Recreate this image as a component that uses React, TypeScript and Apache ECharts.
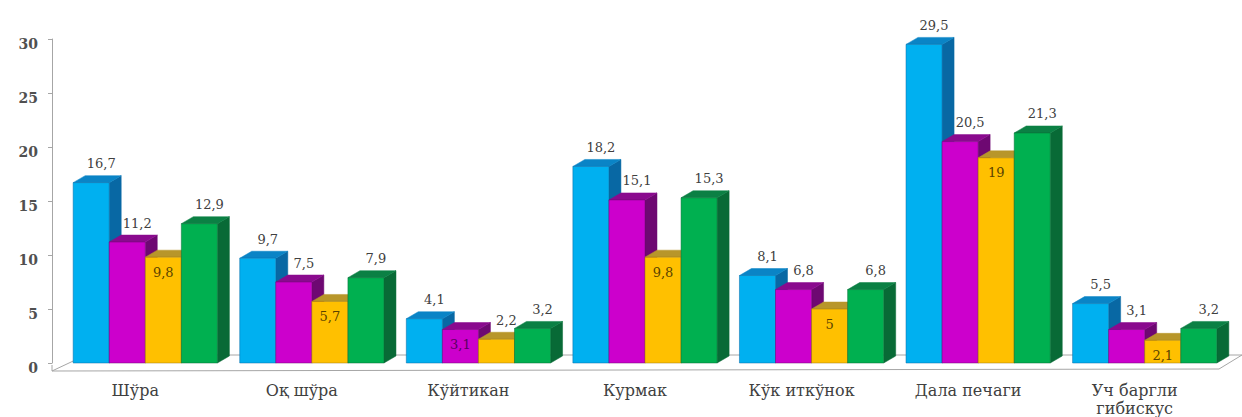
import React, { useEffect, useRef } from "react";
import * as echarts from "echarts";

// Plant species (categories) and the four measured series
const categories = [
  "Шўра",
  "Оқ шўра",
  "Кўйтикан",
  "Курмак",
  "Кўк иткўнок",
  "Дала печаги",
  "Уч баргли\nгибискус",
];
const valuesBlue = [16.7, 9.7, 4.1, 18.2, 8.1, 29.5, 5.5];
const valuesMagenta = [11.2, 7.5, 3.1, 15.1, 6.8, 20.5, 3.1];
const valuesYellow = [9.8, 5.7, 2.2, 9.8, 5, 19, 2.1];
const valuesGreen = [12.9, 7.9, 3.2, 15.3, 6.8, 21.3, 3.2];
const yTicks = [0, 5, 10, 15, 20, 25, 30];

// Where each value label sits: inside the bar face (true) or above it (false)
const labelInside = [
  [false, false, false, false, false, false, false],
  [false, false, true, false, false, false, false],
  [true, true, false, true, true, true, true],
  [false, false, false, false, false, false, false],
];

// Face colours for the 3D blocks: front, top, side, inner label
const palette = [
  { front: "#00B0F0", top: "#0A84C6", side: "#0868A4", inner: "#063a5a" },
  { front: "#CC00CC", top: "#8A0A8E", side: "#6E0872", inner: "#5a0060" },
  { front: "#FFC000", top: "#B8962A", side: "#9C7A10", inner: "#5a4300" },
  { front: "#00B050", top: "#0B8044", side: "#086A36", inner: "#044020" },
];

const allSeries = [valuesBlue, valuesMagenta, valuesYellow, valuesGreen];

const DX = 12; // depth offset to the right
const DY = 7; // depth offset upward

const fmt = (v: number) => String(v).replace(".", ",");

function makeRenderItem(sIdx: number) {
  const col = palette[sIdx];
  return (params: any, api: any) => {
    const ci = api.value(0);
    const v = api.value(1);
    const base = api.coord([ci, 0]);
    const top = api.coord([ci, v]);
    const band = api.size([1, 0])[0];
    const w = band * 0.2165;
    const x0 = base[0] - band * 0.373 + sIdx * w;
    const x1 = x0 + w;
    const yt = top[1];
    const yb = base[1];
    const inside = labelInside[sIdx][ci];
    const children: any[] = [
      {
        type: "polygon",
        shape: {
          points: [
            [x1, yt],
            [x1 + DX, yt - DY],
            [x1 + DX, yb - DY],
            [x1, yb],
          ],
        },
        style: { fill: col.side, stroke: col.side, lineWidth: 0.5 },
      },
      {
        type: "polygon",
        shape: {
          points: [
            [x0, yt],
            [x0 + DX, yt - DY],
            [x1 + DX, yt - DY],
            [x1, yt],
          ],
        },
        style: { fill: col.top, stroke: col.top, lineWidth: 0.5 },
      },
      {
        type: "rect",
        shape: { x: x0, y: yt, width: w, height: yb - yt },
        style: { fill: col.front, stroke: col.side, lineWidth: 0.5 },
      },
      {
        type: "text",
        x: inside ? x0 + w / 2 : x0 + w / 2 + 10,
        y: inside ? yt + 15 : yt - 19,
        style: {
          text: fmt(v),
          fill: inside ? col.inner : "#404040",
          font: '13px "DejaVu Serif"',
          align: "center",
          verticalAlign: "middle",
        },
      },
    ];
    return { type: "group", children };
  };
}

export default function App() {
  const ref = useRef<HTMLDivElement>(null);

  useEffect(() => {
    if (!ref.current) return;
    const chart = echarts.init(ref.current, null, { renderer: "svg" });
    const lineColor = "#a6a6a6";
    chart.setOption({
      animation: false,
      backgroundColor: "#ffffff",
      grid: { left: 52, right: 24, top: 39, bottom: 52, containLabel: false },
      xAxis: {
        type: "category",
        data: categories,
        axisLine: { show: false },
        axisTick: { show: false },
        axisLabel: {
          interval: 0,
          margin: 18,
          color: "#404040",
          fontFamily: "DejaVu Serif",
          fontSize: 16,
          lineHeight: 18,
        },
      },
      yAxis: {
        type: "value",
        min: 0,
        max: 30,
        interval: 5,
        splitLine: { show: false },
        axisLine: { show: true, lineStyle: { color: lineColor, width: 1 } },
        axisTick: { show: true, length: 4, lineStyle: { color: lineColor } },
        axisLabel: {
          margin: 14,
          color: "#505050",
          fontFamily: "DejaVu Serif",
          fontWeight: "bold",
          fontSize: 14,
          verticalAlign: "top",
          lineHeight: 10,
          formatter: (val: number) => (yTicks.includes(val) ? String(val) : ""),
        },
      },
      graphic: [
        {
          type: "polygon",
          z: 0,
          shape: {
            points: [
              [52, 371],
              [1219, 369],
              [1242, 355],
              [86, 355],
            ],
          },
          style: { fill: "none", stroke: lineColor, lineWidth: 1 },
        },
        {
          type: "line",
          z: 0,
          shape: { x1: 52, y1: 365, x2: 52, y2: 371 },
          style: { stroke: lineColor, lineWidth: 1 },
        },
      ],
      series: allSeries.map((vals, sIdx) => ({
        type: "custom",
        name: `s${sIdx + 1}`,
        renderItem: makeRenderItem(sIdx),
        data: vals.map((v, i) => [i, v]),
        encode: { x: 0, y: 1 },
        z: 2 + sIdx,
        clip: false,
      })),
    });
    return () => chart.dispose();
  }, []);

  return (
    <div
      ref={ref}
      style={{ position: "absolute", left: 0, top: 0, width: 1242, height: 417 }}
    />
  );
}
